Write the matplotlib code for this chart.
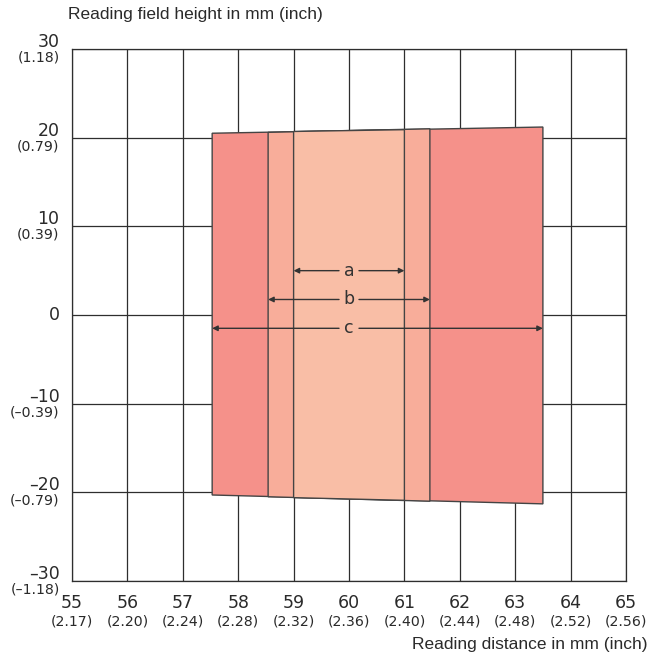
import matplotlib
matplotlib.use("Agg")
import matplotlib.pyplot as plt
from matplotlib.patches import Polygon
from matplotlib.transforms import offset_copy

plt.rcParams['font.family'] = ['DejaVu Sans']

# Data
x_ticks = [55, 56, 57, 58, 59, 60, 61, 62, 63, 64, 65]
x_inch = ["(2.17)", "(2.20)", "(2.24)", "(2.28)", "(2.32)", "(2.36)", "(2.40)",
          "(2.44)", "(2.48)", "(2.52)", "(2.56)"]
y_ticks = [30, 20, 10, 0, -10, -20, -30]
y_main = ["30", "20", "10", "0", "–10", "–20", "–30"]
y_inch = ["(1.18)", "(0.79)", "(0.39)", "", "(–0.39)", "(–0.79)", "(–1.18)"]

# field boundaries (reading distance) and field heights at each boundary
edges = [57.53, 58.54, 59.0, 61.0, 61.46, 63.5]
tops = [20.5, 20.6, 20.7, 20.9, 21.0, 21.2]
bottoms = [-20.3, -20.5, -20.6, -20.9, -21.0, -21.3]

zones = ["c", "b", "a"]
zone_idx = {"c": (0, 5), "b": (1, 4), "a": (2, 3)}
zone_colors = {"c": "#F5918A", "b": "#F8AD9A", "a": "#F9BEA6"}
arrow_y = {"a": 5.0, "b": 1.75, "c": -1.5}

fig = plt.figure(figsize=(6.5, 6.57), dpi=100)
ax = fig.add_axes([72/650, 1-581/657, (626-72)/650, (581-49)/657])
ax.set_xlim(55, 65)
ax.set_ylim(-30, 30)

gc = "#2e2e2e"
tc = "#2a2a2a"
for xv in x_ticks:
    ax.axvline(xv, color=gc, lw=0.9, zorder=1)
for yv in y_ticks:
    ax.axhline(yv, color=gc, lw=0.9, zorder=1)

for z in zones:
    i, j = zone_idx[z]
    poly = Polygon([(edges[i], bottoms[i]), (edges[i], tops[i]),
                    (edges[j], tops[j]), (edges[j], bottoms[j])],
                   closed=True, facecolor=zone_colors[z], edgecolor="#444444",
                   lw=1.0, zorder=2)
    ax.add_patch(poly)

center = 60.0
gap = 0.18
for z in zones:
    i, j = zone_idx[z]
    yv = arrow_y[z]
    for x0, x1 in [(center - gap, edges[i]), (center + gap, edges[j])]:
        ax.annotate("", xy=(x1, yv), xytext=(x0, yv),
                    arrowprops=dict(arrowstyle="-|>", color="#333333", lw=1.0,
                                    mutation_scale=8, shrinkA=0, shrinkB=0),
                    zorder=4)
    ax.text(center, yv, z, ha="center", va="center", fontsize=12.5,
            color="#333333", zorder=5)

for s in ax.spines.values():
    s.set_color(gc)
    s.set_linewidth(0.9)
ax.set_xticks([])
ax.set_yticks([])

# y labels
for yv, m, inch in zip(y_ticks, y_main, y_inch):
    tr_up = offset_copy(ax.get_yaxis_transform(), fig=fig, x=-9, y=-1.5, units='points')
    tr_dn = offset_copy(ax.get_yaxis_transform(), fig=fig, x=-9, y=-1.0, units='points')
    if inch:
        ax.text(0, yv, m, transform=tr_up, ha="right", va="bottom", fontsize=12.5, color=tc)
        ax.text(0, yv, inch, transform=tr_dn, ha="right", va="top", fontsize=10.2, color=tc)
    else:
        tr = offset_copy(ax.get_yaxis_transform(), fig=fig, x=-9, y=0, units='points')
        ax.text(0, yv, m, transform=tr, ha="right", va="center", fontsize=12.5, color=tc)

# x labels
for xv, inch in zip(x_ticks, x_inch):
    tr1 = offset_copy(ax.get_xaxis_transform(), fig=fig, x=0, y=-16, units='points')
    tr2 = offset_copy(ax.get_xaxis_transform(), fig=fig, x=0, y=-29, units='points')
    ax.text(xv, 0, str(xv), transform=tr1, ha="center", va="center", fontsize=12.5, color=tc)
    ax.text(xv, 0, inch, transform=tr2, ha="center", va="center", fontsize=10.2, color=tc)

fig.text(68/650, 1-14/657, "Reading field height in mm (inch)", ha="left", va="center",
         fontsize=12.5, color=tc, family=['Liberation Sans', 'DejaVu Sans'])
fig.text(647/650, 1-644/657, "Reading distance in mm (inch)", ha="right", va="center",
         fontsize=12.5, color=tc, family=['Liberation Sans', 'DejaVu Sans'])

fig.savefig("out.png", dpi=100)
